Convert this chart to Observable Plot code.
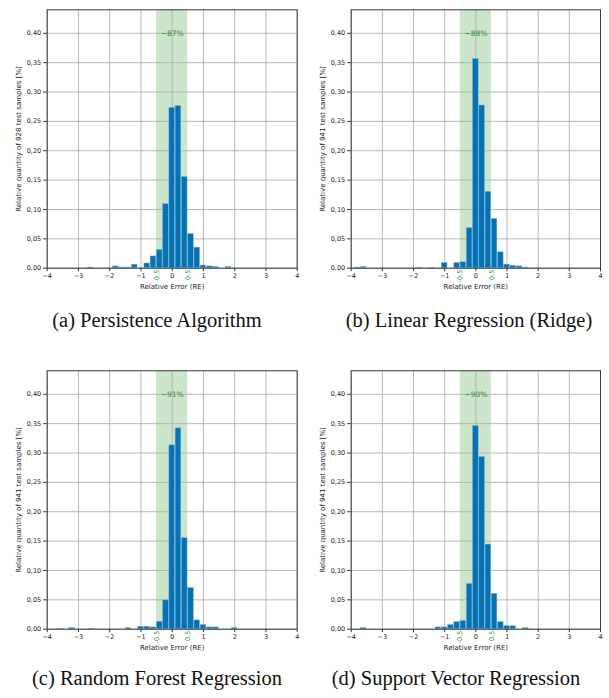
<!DOCTYPE html>
<html><head><meta charset="utf-8">
<script src="https://cdn.jsdelivr.net/npm/d3@7"></script>
<script src="https://cdn.jsdelivr.net/npm/@observablehq/plot@0.6"></script>
<style>
body{margin:0;background:#fff;}
#fig{position:relative;width:609px;height:698px;overflow:hidden;background:#fff;}
.panel{position:absolute;}
.cap{position:absolute;font-family:"Liberation Serif","Times New Roman",serif;font-size:20.5px;line-height:20.5px;color:#111;white-space:nowrap;transform:translateX(-50%);}
</style></head><body><div id="fig"></div>
<script>
// ---- data ----
const xTicks = [-4, -3, -2, -1, 0, 1, 2, 3, 4];
const yTicks = [0, 0.05, 0.10, 0.15, 0.20, 0.25, 0.30, 0.35, 0.40];
const bandEdges = [-0.5, 0.5];
const xLabel = "Relative Error (RE)";
const captions = ["(a) Persistence Algorithm", "(b) Linear Regression (Ridge)", "(c) Random Forest Regression", "(d) Support Vector Regression"];
const yLabels = ["Relative quantity of 928 test samples [%]", "Relative quantity of 941 test samples [%]", "Relative quantity of 941 test samples [%]", "Relative quantity of 941 test samples [%]"];
const shares = ["~87%", "~88%", "~91%", "~90%"];

const persistenceX = [-2.6, -1.8, -1.6, -1.4, -1.2, -0.8, -0.6, -0.4, -0.2, 0, 0.2, 0.4, 0.6, 0.8, 1.0, 1.2, 1.4, 1.8];
const persistenceY = [0.001, 0.003, 0.001, 0.001, 0.006, 0.008, 0.020, 0.031, 0.109, 0.273, 0.276, 0.155, 0.058, 0.035, 0.0045, 0.003, 0.002, 0.002];

const ridgeX = [-3.8, -3.6, -1.8, -1.4, -1.0, -0.6, -0.4, -0.2, 0, 0.2, 0.4, 0.6, 0.8, 1.0, 1.2, 1.4, 1.6];
const ridgeY = [0.001, 0.002, 0.0005, 0.0005, 0.009, 0.009, 0.010, 0.068, 0.356, 0.277, 0.130, 0.084, 0.027, 0.006, 0.004, 0.003, 0.001];

const forestX = [-3.6, -3.2, -2.6, -1.4, -1.0, -0.8, -0.6, -0.4, -0.2, 0, 0.2, 0.4, 0.6, 0.8, 1.0, 1.2, 1.4, 2.0];
const forestY = [0.0005, 0.002, 0.0005, 0.002, 0.004, 0.004, 0.003, 0.0125, 0.049, 0.313, 0.342, 0.155, 0.070, 0.015, 0.007, 0.003, 0.003, 0.002];

const svrX = [-3.6, -1.2, -1.0, -0.8, -0.6, -0.4, -0.2, 0, 0.2, 0.4, 0.6, 0.8, 1.0, 1.2, 1.6];
const svrY = [0.002, 0.003, 0.003, 0.007, 0.012, 0.014, 0.077, 0.346, 0.293, 0.144, 0.060, 0.012, 0.005, 0.005, 0.002];

const shareX = 0, shareY = 0.40;

// ---- drawing ----
const fig = document.getElementById("fig");
const green = "#2a8f2a";

function panel(xs, ys, yLabel, share, opt) {
  const data = xs.map((x, i) => ({x, y: ys[i]}));
  return Plot.plot({
    width: opt.width, height: 300,
    marginLeft: opt.ml, marginRight: opt.mr, marginTop: 9.3, marginBottom: 32.3,
    x: {domain: [-4, 4]},
    y: {domain: [0, 0.44]},
    style: {fontFamily: "DejaVu Sans", fontSize: "6.5px", color: "#222", background: "white", overflow: "visible"},
    marks: [
      Plot.rect([bandEdges], {x1: d => d[0], x2: d => d[1], fill: "green", fillOpacity: 0.2}),
      Plot.gridX(xTicks, {stroke: "#b0b0b0", strokeOpacity: 1, strokeWidth: 0.9}),
      Plot.gridY(yTicks, {stroke: "#b0b0b0", strokeOpacity: 1, strokeWidth: 0.9}),
      Plot.rectY(data, {x1: d => d.x - 0.09, x2: d => d.x + 0.09, y: "y", fill: "#0672b3", stroke: "#6fb0da", strokeWidth: 0.5}),
      Plot.axisX(xTicks, {tickSize: 3.5, tickPadding: 2, label: null, stroke: "#333"}),
      Plot.axisY(yTicks, {tickSize: 3.5, tickPadding: 2.5, label: null, stroke: "#333", tickFormat: d => d.toFixed(2).replace(".", ",")}),
      Plot.frame({stroke: "#3a3a3a", strokeWidth: 1}),
      Plot.text(bandEdges, {x: d => d, frameAnchor: "bottom", dy: 1.5, rotate: -90, textAnchor: "end", lineAnchor: "middle", text: d => String(d), fill: green, fontSize: 6.5}),
      Plot.text([share], {x: () => shareX, y: () => shareY, text: d => d, fill: green, fontSize: 7.5}),
      Plot.text([yLabel], {frameAnchor: "left", dx: -28, rotate: -90, textAnchor: "middle", lineAnchor: "middle", text: d => d, fontSize: 7, fill: "#222"}),
      Plot.text([xLabel], {frameAnchor: "bottom", dy: 19, textAnchor: "middle", lineAnchor: "middle", text: d => d, fontSize: 7, fill: "#222"})
    ]
  });
}

const specs = [
  {xs: persistenceX, ys: persistenceY, left: 0, top: 0, width: 305, ml: 46.7, mr: 8.3, capX: 157, capTop: 309.8},
  {xs: ridgeX, ys: ridgeY, left: 305, top: 0, width: 304, ml: 45.7, mr: 9, capX: 469, capTop: 309.8},
  {xs: forestX, ys: forestY, left: 0, top: 361.4, width: 305, ml: 46.7, mr: 8.3, capX: 157, capTop: 667.8},
  {xs: svrX, ys: svrY, left: 305, top: 361.4, width: 304, ml: 45.7, mr: 9, capX: 456, capTop: 667.8}
];

specs.forEach((s, i) => {
  const wrap = document.createElement("div");
  wrap.className = "panel";
  wrap.style.left = s.left + "px";
  wrap.style.top = s.top + "px";
  wrap.appendChild(panel(s.xs, s.ys, yLabels[i], shares[i], s));
  fig.appendChild(wrap);
  const cap = document.createElement("div");
  cap.className = "cap";
  cap.style.left = s.capX + "px";
  cap.style.top = s.capTop + "px";
  cap.textContent = captions[i];
  fig.appendChild(cap);
});
</script>
</body></html>
